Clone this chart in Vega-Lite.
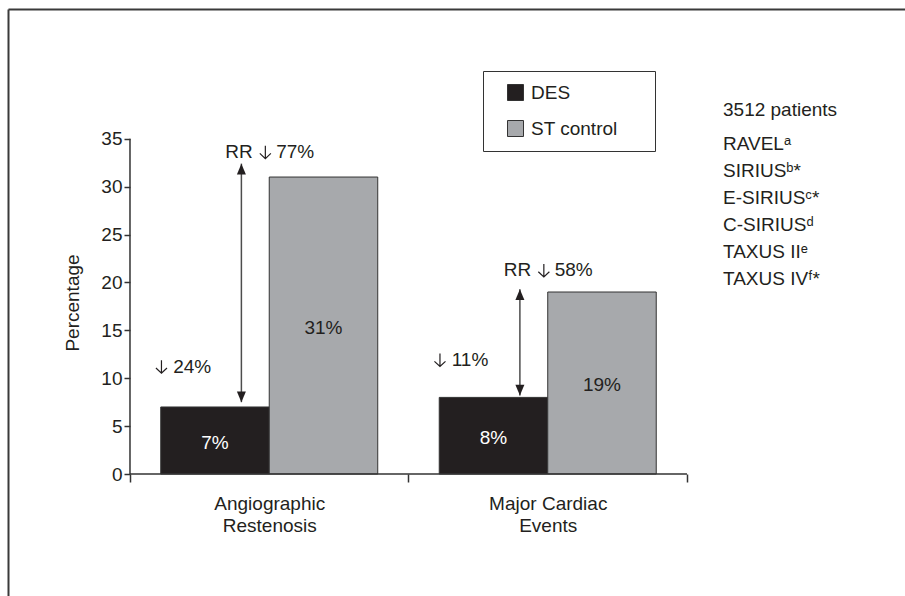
{
  "$schema": "https://vega.github.io/schema/vega-lite/v6.json",
  "width": 897,
  "height": 587,
  "autosize": {"type": "none"},
  "padding": {"left": 8, "top": 9, "right": 0, "bottom": 0},
  "background": "white",
  "config": {
    "view": {"stroke": null},
    "font": "Liberation Sans, DejaVu Sans",
    "text": {"font": "Liberation Sans, DejaVu Sans"},
    "axis": {"grid": false, "labelFont": "Liberation Sans, DejaVu Sans", "titleFont": "Liberation Sans, DejaVu Sans"},
    "legend": {"labelFont": "Liberation Sans, DejaVu Sans", "titleFont": "Liberation Sans, DejaVu Sans"}
  },
  "datasets": {
    "bars": [
      {"cat": "Angiographic Restenosis", "group": "DES", "value": 7, "label": "7%"},
      {"cat": "Angiographic Restenosis", "group": "ST control", "value": 31, "label": "31%"},
      {"cat": "Major Cardiac Events", "group": "DES", "value": 8, "label": "8%"},
      {"cat": "Major Cardiac Events", "group": "ST control", "value": 19, "label": "19%"}
    ],
    "rr": [
      {"cat": "Angiographic Restenosis", "lead": "RR", "pct": "77%", "y": 33.6},
      {"cat": "Major Cardiac Events", "lead": "RR", "pct": "58%", "y": 21.25}
    ],
    "drop": [
      {"cat": "Angiographic Restenosis", "pct": "24%", "y": 11.2},
      {"cat": "Major Cardiac Events", "pct": "11%", "y": 11.9}
    ],
    "arrows": [
      {"cat": "Angiographic Restenosis", "from": 7.5, "to": 32.4},
      {"cat": "Major Cardiac Events", "from": 8.2, "to": 19.3}
    ],
    "baseline": [
      {"start": "Angiographic Restenosis", "end": "Major Cardiac Events", "y": 0, "top": 35}
    ],
    "trials": [
      {"trial": "RAVELᵃ"},
      {"trial": "SIRIUSᵇ*"},
      {"trial": "E-SIRIUSᶜ*"},
      {"trial": "C-SIRIUSᵈ"},
      {"trial": "TAXUS IIᵉ"},
      {"trial": "TAXUS IVᶠ*"}
    ]
  },
  "resolve": {"axis": {"x": "independent", "y": "independent"}},
  "layer": [
    {
      "data": {"name": "bars"},
      "mark": {"type": "bar", "stroke": "#333333", "strokeWidth": 1},
      "encoding": {
        "x": {
          "field": "cat", "type": "nominal",
          "scale": {"type": "band", "domain": ["Angiographic Restenosis", "Major Cardiac Events"], "paddingInner": 0, "paddingOuter": 0.6104, "align": 0.3588},
          "axis": {
            "orient": "bottom", "offset": -122, "title": null, "domain": false,
            "tickBand": "extent", "tickSize": 8, "tickColor": "#333333", "tickWidth": 1.5,
            "labelAngle": 0, "labelFontSize": 19, "labelColor": "#231f20", "labelPadding": 12, "labelLineHeight": 22,
            "labelExpr": "datum.label == 'Major Cardiac Events' ? ['Major Cardiac', 'Events'] : (datum.label == 'Angiographic Restenosis' ? ['Angiographic', 'Restenosis'] : '')"
          }
        },
        "xOffset": {"field": "group", "scale": {"domain": ["DES", "ST control"], "paddingInner": 0, "paddingOuter": 0.2834}},
        "y": {
          "field": "value", "type": "quantitative",
          "scale": {"domain": [-12.73, 48.54], "nice": false, "zero": false},
          "axis": {
            "orient": "left", "offset": -122, "values": [0, 5, 10, 15, 20, 25, 30, 35],
            "domain": false, "tickSize": 6, "tickColor": "#333333", "tickWidth": 1.5,
            "labelFontSize": 19, "labelPadding": 2, "labelColor": "#231f20",
            "title": "Percentage", "titleFontSize": 19, "titleFontWeight": "normal", "titleColor": "#231f20", "titlePadding": 18
          }
        },
        "color": {
          "field": "group", "type": "nominal",
          "scale": {"domain": ["DES", "ST control"], "range": ["#231f20", "#a7a9ac"]},
          "legend": {
            "orient": "none", "legendX": 475, "legendY": 62,
            "title": "\u00a0", "titleOrient": "right", "titlePadding": 25, "titleFontSize": 19,
            "strokeColor": "#333333", "padding": 12, "symbolType": "square", "symbolSize": 256,
            "symbolStrokeColor": "#333333", "symbolStrokeWidth": 1, "symbolOffset": 11,
            "labelFontSize": 19, "labelColor": "#231f20", "rowPadding": 15, "labelOffset": 6
          }
        }
      }
    },
    {
      "data": {"name": "bars"},
      "transform": [{"calculate": "datum.value / 2", "as": "mid"}],
      "mark": {"type": "text", "fontSize": 19, "baseline": "middle", "align": "center", "dy": 2},
      "encoding": {
        "x": {"field": "cat", "type": "nominal", "axis": null},
        "xOffset": {"field": "group"},
        "y": {"field": "mid", "type": "quantitative", "axis": null},
        "text": {"field": "label"},
        "color": {"condition": {"test": "datum.group === 'DES'", "value": "#ffffff"}, "value": "#231f20"}
      }
    },
    {
      "data": {"name": "baseline"},
      "mark": {"type": "rule", "color": "#333333", "strokeWidth": 1.5},
      "encoding": {
        "x": {"field": "start", "type": "nominal", "bandPosition": 0, "axis": null},
        "x2": {"field": "end", "bandPosition": 1},
        "y": {"field": "y", "type": "quantitative", "axis": null}
      }
    },
    {
      "data": {"name": "baseline"},
      "mark": {"type": "rule", "color": "#333333", "strokeWidth": 1.5},
      "encoding": {
        "x": {"field": "start", "type": "nominal", "bandPosition": 0, "axis": null},
        "y": {"field": "y", "type": "quantitative", "axis": null},
        "y2": {"field": "top"}
      }
    },
    {
      "data": {"name": "arrows"},
      "mark": {"type": "rule", "color": "#4d4d4d", "strokeWidth": 1.5},
      "encoding": {
        "x": {"field": "cat", "type": "nominal", "bandPosition": 0.4, "axis": null},
        "y": {"field": "from", "type": "quantitative", "axis": null},
        "y2": {"field": "to"}
      }
    },
    {
      "data": {"name": "arrows"},
      "mark": {"type": "point", "shape": "M0,0L-1,2.4L1,2.4Z", "size": 81, "filled": true, "opacity": 1, "color": "#231f20", "strokeWidth": 0},
      "encoding": {
        "x": {"field": "cat", "type": "nominal", "bandPosition": 0.4, "axis": null},
        "y": {"field": "to", "type": "quantitative", "axis": null}
      }
    },
    {
      "data": {"name": "arrows"},
      "mark": {"type": "point", "shape": "M0,0L-1,-2.4L1,-2.4Z", "size": 81, "filled": true, "opacity": 1, "color": "#231f20", "strokeWidth": 0},
      "encoding": {
        "x": {"field": "cat", "type": "nominal", "bandPosition": 0.4, "axis": null},
        "y": {"field": "from", "type": "quantitative", "axis": null}
      }
    },
    {
      "data": {"name": "rr"},
      "mark": {"type": "text", "fontSize": 19, "baseline": "middle", "align": "right", "color": "#231f20"},
      "encoding": {
        "x": {
          "field": "cat", "type": "nominal", "bandPosition": 0.441,
          "axis": {"orient": "top", "title": null, "labels": false, "ticks": false, "domain": true, "domainColor": "#3a3a3a", "domainWidth": 2}
        },
        "y": {
          "field": "y", "type": "quantitative",
          "axis": {"orient": "left", "title": null, "labels": false, "ticks": false, "domain": true, "domainColor": "#3a3a3a", "domainWidth": 2, "grid": false}
        },
        "text": {"field": "lead"}
      }
    },
    {
      "data": {"name": "rr"},
      "mark": {"type": "text", "fontSize": 19, "baseline": "middle", "align": "left", "color": "#231f20"},
      "encoding": {
        "x": {"field": "cat", "type": "nominal", "bandPosition": 0.525, "axis": null},
        "y": {"field": "y", "type": "quantitative", "axis": null},
        "text": {"field": "pct"}
      }
    },
    {
      "data": {"name": "rr"},
      "mark": {"type": "point", "shape": "M0,-1L0,1M-0.85,0.2L0,1L0.85,0.2", "size": 169, "filled": false, "opacity": 1, "stroke": "#231f20", "strokeWidth": 1.2},
      "encoding": {
        "x": {"field": "cat", "type": "nominal", "bandPosition": 0.486, "axis": null},
        "y": {"field": "y", "type": "quantitative", "axis": null}
      }
    },
    {
      "data": {"name": "drop"},
      "mark": {"type": "text", "fontSize": 19, "baseline": "middle", "align": "left", "color": "#231f20"},
      "encoding": {
        "x": {"field": "cat", "type": "nominal", "bandPosition": 0.155, "axis": null},
        "y": {"field": "y", "type": "quantitative", "axis": null},
        "text": {"field": "pct"}
      }
    },
    {
      "data": {"name": "drop"},
      "mark": {"type": "point", "shape": "M0,-1L0,1M-0.85,0.2L0,1L0.85,0.2", "size": 169, "filled": false, "opacity": 1, "stroke": "#231f20", "strokeWidth": 1.2},
      "encoding": {
        "x": {"field": "cat", "type": "nominal", "bandPosition": 0.113, "axis": null},
        "y": {"field": "y", "type": "quantitative", "axis": null}
      }
    },
    {
      "data": {"name": "trials"},
      "mark": {"type": "point", "opacity": 0},
      "encoding": {
        "shape": {
          "field": "trial", "type": "nominal",
          "scale": {"domain": ["RAVELᵃ", "SIRIUSᵇ*", "E-SIRIUSᶜ*", "C-SIRIUSᵈ", "TAXUS IIᵉ", "TAXUS IVᶠ*"]},
          "legend": {
            "orient": "none", "legendX": 715, "legendY": 92, "title": "3512 patients",
            "titleFontSize": 19, "titleFontWeight": "normal", "titleColor": "#231f20", "titlePadding": 14,
            "labelFontSize": 19, "labelColor": "#231f20", "symbolSize": 0, "symbolOpacity": 0, "symbolStrokeWidth": 0,
            "labelOffset": -19, "rowPadding": 7, "padding": 0
          }
        }
      }
    }
  ]
}
